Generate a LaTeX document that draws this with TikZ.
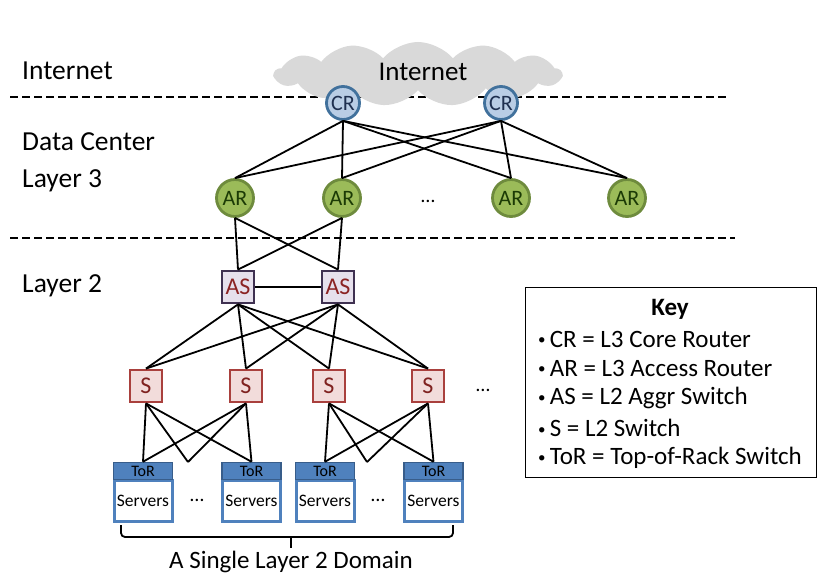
\documentclass[tikz,border=0pt]{standalone}
\usepackage{fontspec}
\setmainfont{Carlito}
\usetikzlibrary{shapes.symbols}
\definecolor{crfill}{HTML}{B9CDE5}
\definecolor{crdraw}{HTML}{41719C}
\definecolor{crtext}{HTML}{1F3050}
\definecolor{arfill}{HTML}{9BBB59}
\definecolor{ardraw}{HTML}{6E8B3D}
\definecolor{artext}{HTML}{1B3A05}
\definecolor{asfill}{HTML}{E6E0EC}
\definecolor{asdraw}{HTML}{3F3151}
\definecolor{astext}{HTML}{8B2323}
\definecolor{sfill}{HTML}{F2DCDB}
\definecolor{sdraw}{HTML}{A9403D}
\definecolor{stext}{HTML}{7F2220}
\definecolor{torfill}{HTML}{4F81BD}
\definecolor{tordraw}{HTML}{385D8A}
\definecolor{cloudgray}{HTML}{D9D9D9}
\newcommand{\fs}[1]{\fontsize{#1}{#1}\selectfont}
\newcommand{\kb}{\raisebox{2.5pt}{\fs{15}•}\,}
\begin{document}
\begin{tikzpicture}[x=1pt,y=-1pt,
  divider/.style={line width=2pt,dash pattern=on 8pt off 4pt},
  link/.style={line width=1.8pt,black},
  lbl/.style={anchor=west,inner sep=0pt,font=\fs{27.5}},
  crnode/.style={circle,draw=crdraw,fill=crfill,line width=2.8pt,minimum size=33pt,inner sep=0pt,text=crtext,font=\fs{22}},
  arnode/.style={circle,draw=ardraw,fill=arfill,line width=2.8pt,minimum size=37pt,inner sep=0pt,text=artext,font=\fs{22}},
  asnode/.style={rectangle,draw=asdraw,fill=asfill,line width=2.8pt,minimum size=32pt,inner sep=0pt,text=astext,font=\fs{24}},
  snode/.style={rectangle,draw=sdraw,fill=sfill,line width=2.8pt,minimum size=32pt,inner sep=0pt,text=stext,font=\fs{24}},
  torhead/.style={rectangle,draw=tordraw,fill=torfill,line width=1.5pt,minimum width=59pt,minimum height=17pt,inner sep=0pt,font=\fs{16}},
  serverbox/.style={rectangle,draw=torfill,fill=white,line width=3pt,minimum width=58pt,minimum height=41pt,inner sep=0pt,font=\fs{17.5}},
  dotsl/.style={inner sep=0pt,font=\fs{20}},
  keyline/.style={anchor=west,inner sep=0pt,font=\fs{25}}
]
\useasboundingbox (0,0) rectangle (829,580);
\fill[white] (0,0) rectangle (829,580);
% dividers
\coordinate (d1a) at (10,97); \coordinate (d1b) at (727,97);
\coordinate (d2a) at (10,238); \coordinate (d2b) at (735,238);
\draw[divider] (d1a) -- (d1b);
\draw[divider] (d2a) -- (d2b);
% cloud
\node[cloud,cloud puffs=13,cloud puff arc=100,aspect=4.6,fill=cloudgray,draw=none,minimum width=287pt,minimum height=64pt] (cloud) at (418,74) {};
\node[inner sep=0pt,font=\fs{27}] (inet) at (423,72) {Internet};
% left labels
\node[lbl] (lInternet) at (22,71) {Internet};
\node[lbl] (lDC) at (22,142) {Data Center};
\node[lbl] (lL3) at (22,181) {Layer 3};
\node[lbl] (lL2) at (22,286) {Layer 2};
% CR
\node[crnode] (cr1) at (343,103) {CR};
\node[crnode] (cr2) at (501,103) {CR};
% AR
\node[arnode] (ar1) at (235,198) {AR};
\node[arnode] (ar2) at (342,198) {AR};
\node[arnode] (ar3) at (511,198) {AR};
\node[arnode] (ar4) at (627,198) {AR};
\node[dotsl] (ardots) at (428,201) {…};
% AS
\node[asnode] (as1) at (238,287) {AS};
\node[asnode] (as2) at (338,287) {AS};
% S
\node[snode] (s1) at (146,386) {S};
\node[snode] (s2) at (246,386) {S};
\node[snode] (s3) at (329,386) {S};
\node[snode] (s4) at (428,386) {S};
\node[dotsl] (sdots) at (483,390) {…};
% ToR
\foreach \i/\x in {1/143,2/251.5,3/325,4/433.5}{
  \node[serverbox] (sv\i) at (\x,501) {Servers};
  \node[torhead] (t\i) at (\x,471) {ToR};
}
\node[dotsl] (tdots1) at (197,500) {…};
\node[dotsl] (tdots2) at (378,500) {…};
\coordinate (hid1) at (188,462);
\coordinate (hid2) at (367,462);
% links CR-AR
\foreach \c in {cr1,cr2}{
  \foreach \a in {ar1,ar2,ar3,ar4}{
    \draw[link] (\c.south) -- (\a.north);
  }
}
% links AR-AS
\foreach \a in {ar1,ar2}{
  \foreach \s in {as1,as2}{
    \draw[link] (\a.south) -- (\s.north);
  }
}
\draw[link] (as1.east) -- (as2.west);
% links AS-S
\foreach \a in {as1,as2}{
  \foreach \s in {s1,s2,s3,s4}{
    \draw[link] (\a.south) -- (\s.north);
  }
}
% links S-ToR
\foreach \s in {s1,s2}{
  \draw[link] (\s.south) -- (t1.north);
  \draw[link] (\s.south) -- (hid1);
  \draw[link] (\s.south) -- (t2.north);
}
\foreach \s in {s3,s4}{
  \draw[link] (\s.south) -- (t3.north);
  \draw[link] (\s.south) -- (hid2);
  \draw[link] (\s.south) -- (t4.north);
}
% brace
\coordinate (bl) at (121,525); \coordinate (br) at (453,525);
\coordinate (bt) at (291,548);
\draw[line width=1.8pt,rounded corners=4pt] (bl) -- (121,537) -- (291,537) -- (453,537) -- (br);
\draw[line width=1.8pt] (291,537) -- (bt);
\node[inner sep=0pt,font=\fs{25}] (domain) at (291,562) {A Single Layer 2 Domain};
% key
\node[draw=black,line width=1.8pt,minimum width=291pt,minimum height=190pt,inner sep=0pt] (key) at (671,382.5) {};
\node[inner sep=0pt,font=\fs{25}\bfseries] (keyt) at (670,309) {Key};
\node[keyline] (k1) at (538,339) {\kb CR = L3 Core Router};
\node[keyline] (k2) at (538,368) {\kb AR = L3 Access Router};
\node[keyline] (k3) at (538,398) {\kb AS = L2 Aggr Switch};
\node[keyline] (k4) at (538,428) {\kb S = L2 Switch};
\node[keyline] (k5) at (538,458) {\kb ToR = Top-of-Rack Switch};
\end{tikzpicture}
\end{document}
